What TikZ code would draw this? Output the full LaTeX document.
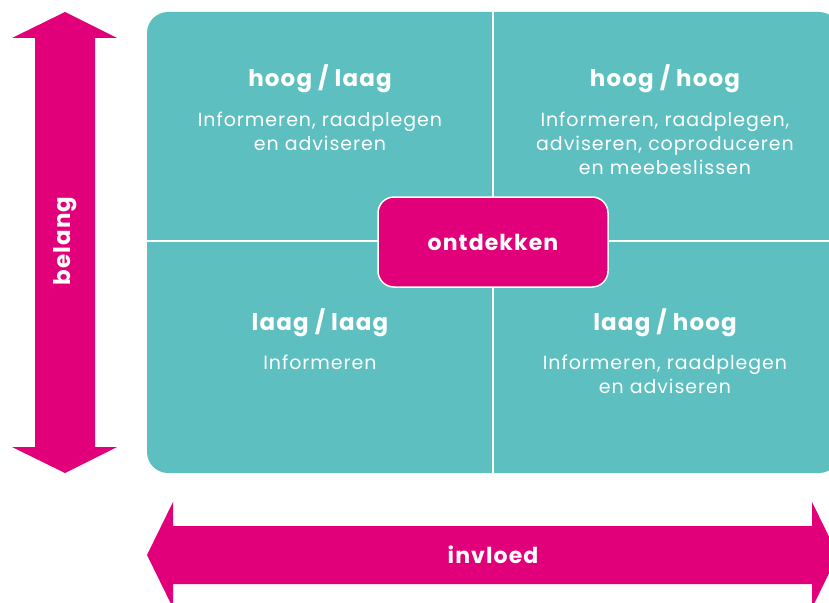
\documentclass[tikz,border=0pt]{standalone}
\usepackage{fontspec}
\setmainfont{Poppins}
\newfontfamily\spaced[LetterSpace=5]{Poppins}
\definecolor{teal}{HTML}{5EBFC1}
\definecolor{magenta}{HTML}{E2007A}
\begin{document}
\begin{tikzpicture}[x=1pt,y=-1pt,
  title/.style={text=white,font=\spaced\fontsize{23}{26}\selectfont\bfseries,inner sep=0pt},
  body/.style={text=white,font=\spaced\fontsize{19}{24}\selectfont,align=center,inner sep=0pt},
  arrowlabel/.style={text=white,font=\spaced\fontsize{22}{26}\selectfont\bfseries,inner sep=0pt}]
\clip (0,0) rectangle (829,602);
\useasboundingbox (0,0) rectangle (829,602);
% quadrant field
\fill[teal, rounded corners=21pt] (147,12) rectangle (840,473);
\draw[white, line width=1.5pt] (493,12) -- (493,473);
\draw[white, line width=1.5pt] (147,241) -- (840,241);
% vertical arrow
\fill[magenta] (65,12) -- (117,38) -- (95,38) -- (95,447) -- (117,447) -- (65,473) -- (12,447) -- (35,447) -- (35,38) -- (12,38) -- cycle;
% horizontal arrow
\fill[magenta] (147,555) -- (173,502) -- (173,526) -- (812,526) -- (812,502) -- (838,555) -- (812,608) -- (812,584) -- (173,584) -- (173,608) -- cycle;
\node[arrowlabel, rotate=90, font=\spaced\fontsize{23}{26}\selectfont\bfseries] (belang) at (65,241) {belang};
\node[arrowlabel] (invloed) at (493,555) {invloed};
% quadrant texts
\node[title] (t1) at (320,79) {hoog / laag};
\node[body, anchor=north] (b1) at (320,112) {Informeren, raadplegen\\en adviseren};
\node[title] (t2) at (665,79) {hoog / hoog};
\node[body, anchor=north] (b2) at (665,112) {Informeren, raadplegen,\\adviseren, coproduceren\\en meebeslissen};
\node[title] (t3) at (320,323) {laag / laag};
\node[body, anchor=north] (b3) at (320,355) {Informeren};
\node[title] (t4) at (665,323) {laag / hoog};
\node[body, anchor=north] (b4) at (665,355) {Informeren, raadplegen\\en adviseren};
% centre
\node[draw=white, line width=1.5pt, fill=magenta, rounded corners=16pt, minimum width=230pt, minimum height=90pt, text=white, font=\spaced\fontsize{22}{26}\selectfont\bfseries] (ont) at (493,242) {ontdekken};
\end{tikzpicture}
\end{document}
